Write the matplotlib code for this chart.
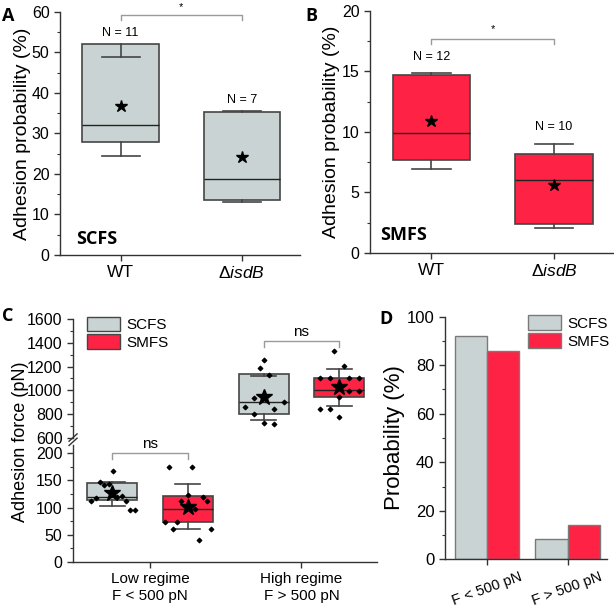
import matplotlib
matplotlib.use('Agg')
import matplotlib.pyplot as plt
from matplotlib.lines import Line2D
from matplotlib.patches import Patch

plt.rcParams['font.family'] = ['Liberation Sans', 'DejaVu Sans']
plt.rcParams['mathtext.fontset'] = 'custom'
plt.rcParams['mathtext.rm'] = 'Liberation Sans'
plt.rcParams['mathtext.it'] = 'Liberation Sans:italic'

GRAY = '#c9d3d3'
RED = '#fe2244'
EDGE = '#454545'
BRACKET = '#9a9a9a'
BOLD = ['Open Sans', 'DejaVu Sans']

# panel A / B : adhesion probability (%)
strains = ['WT', r'$\mathit{\Delta isdB}$']
scfs_prob = dict(q1=[28.0, 13.7], q3=[52.0, 35.3], med=[32.0, 18.7],
                 lo=[24.5, 13.2], hi=[49.0, 35.5], mean=[36.8, 24.3])
smfs_prob = dict(q1=[7.7, 2.4], q3=[14.7, 8.2], med=[9.9, 6.0],
                 lo=[6.9, 2.1], hi=[14.9, 9.0], mean=[10.9, 5.6])
scfs_n = [11, 7]
smfs_n = [12, 10]

# panel C : adhesion force (pN), [low regime, high regime]
regimes = ['Low regime\nF < 500 pN', 'High regime\nF > 500 pN']
scfs_force = dict(q1=[113.8, 801], q3=[144.4, 1136], med=[119, 904],
                  lo=[102.7, 753], hi=[147, 1125], mean=[126, 944])
smfs_force = dict(q1=[74, 946], q3=[121, 1108], med=[98, 1005],
                  lo=[60.5, 873], hi=[142.5, 1181], mean=[101, 1027])
scfs_low_pts = [112, 117, 147, 142, 144, 168, 120, 122, 112, 95, 95]
scfs_low_jit = [-0.14, -0.11, -0.084, -0.053, -0.025, 0.005, 0.031, 0.062, 0.093, 0.12, 0.148]
smfs_low_pts = [73, 174, 61, 73, 112, 123, 174, 98, 41, 120, 112, 61]
smfs_low_jit = [-0.152, -0.124, -0.097, -0.075, -0.046, 0.0, 0.025, 0.048, 0.075, 0.099, 0.124, 0.15]
scfs_high_pts = [1256, 1192, 1133, 940, 904, 857, 843, 802, 728, 714]
scfs_high_jit = [0.002, -0.026, 0.035, -0.062, 0.134, -0.126, 0.068, -0.062, 0.002, 0.068]
smfs_high_pts = [1332, 1203, 1105, 1105, 1105, 1105, 944, 999, 999, 846, 846, 773]
smfs_high_jit = [-0.031, 0.033, -0.126, -0.064, 0.064, 0.128, 0.0, 0.064, 0.128, -0.128, -0.064, 0.0]

# panel D : probability (%)
force_bins = ['F < 500 pN', 'F > 500 pN']
scfs_bin = [92.2, 8.2]
smfs_bin = [86.0, 14.0]


def stats(d, i):
    return dict(q1=d['q1'][i], q3=d['q3'][i], med=d['med'][i],
                whislo=d['lo'][i], whishi=d['hi'][i], mean=d['mean'][i])


def style(ax):
    for s in ['top', 'right']:
        ax.spines[s].set_visible(False)
    for s in ['left', 'bottom']:
        ax.spines[s].set_color('#333333')
        ax.spines[s].set_linewidth(1.0)
    ax.tick_params(direction='out', length=4, width=1, color='#333333')
    ax.tick_params(which='minor', direction='out', length=2.5, width=0.8, color='#333333')


def boxes(ax, st, pos, color, width, star=9):
    ax.bxp(st, positions=pos, widths=width, capwidths=width * 0.5,
           patch_artist=True, showmeans=True, showfliers=False,
           boxprops=dict(facecolor=color, edgecolor=EDGE, linewidth=1.2),
           medianprops=dict(color='#222222', linewidth=1.0),
           whiskerprops=dict(color=EDGE, linewidth=1.2),
           capprops=dict(color=EDGE, linewidth=1.2),
           meanprops=dict(marker='*', markerfacecolor='black',
                          markeredgecolor='black', markersize=star),
           manage_ticks=False)


def bracket(ax, x1, x2, y, drop, label, fs, dy):
    ax.plot([x1, x1, x2, x2], [y - drop, y, y, y - drop], color=BRACKET,
            lw=1.0, clip_on=False)
    ax.text((x1 + x2) / 2, y + dy, label, ha='center', va='bottom',
            fontsize=fs, clip_on=False)


def letter(x, y, s):
    fig.text(x, y, s, fontsize=13, fontweight='bold', family=BOLD, va='top')


fig = plt.figure(figsize=(6.14, 6.09), dpi=100)

# ---- A and B
panels = [
    ([0.0977, 0.5813, 0.3909, 0.399], scfs_prob, scfs_n, GRAY, 60, 10, 'SCFS', 'A',
     (59.3, 1.3, 0.6, [54.8, 38.3], 4, 0.63, -0.12, 0.004)),
    ([0.6026, 0.5846, 0.3958, 0.3974], smfs_prob, smfs_n, RED, 20, 5, 'SMFS', 'B',
     (17.7, 0.4, 0.4, [16.2, 10.4], 1.5, 0.58, -0.122, 0.497)),
]
for rect, d, n, col, ylim, step, tag, let, extra in panels:
    y, drop, dy, ny, tagy, tagx, labx, letx = extra
    ax = fig.add_axes(rect)
    style(ax)
    boxes(ax, [stats(d, 0), stats(d, 1)], [1, 2], col, 0.63)
    ax.set_xlim(0.5, 2.48)
    ax.set_ylim(0, ylim)
    ax.set_yticks(range(0, ylim + 1, step))
    ax.set_yticks([v + step / 2 for v in range(0, ylim, step)], minor=True)
    ax.set_xticks([1, 2])
    ax.set_xticklabels(strains, fontsize=12.5)
    ax.tick_params(axis='y', labelsize=11.5)
    ax.set_ylabel('Adhesion probability (%)', fontsize=14)
    ax.yaxis.set_label_coords(labx, 0.5)
    bracket(ax, 1, 2, y, drop, '*', 8, dy)
    for i in range(2):
        ax.text(i + 1, ny[i], 'N = %d' % n[i], ha='center', va='center', fontsize=9)
    ax.text(tagx, tagy, tag, fontsize=13, fontweight='bold', family=BOLD, va='center')
    letter(letx, 0.9885, let)

# ---- C (broken y axis)
up = fig.add_axes([0.1189, 0.2808, 0.4951, 0.1954])
lo = fig.add_axes([0.1189, 0.0772, 0.4951, 0.1921])
for ax in (up, lo):
    style(ax)
    ax.set_xlim(0.49, 2.5)
up.spines['bottom'].set_visible(False)
up.set_xticks([])
off = 0.25
for ax, idx, pts_s, jit_s, pts_m, jit_m in [
        (lo, 0, scfs_low_pts, scfs_low_jit, smfs_low_pts, smfs_low_jit),
        (up, 1, scfs_high_pts, scfs_high_jit, smfs_high_pts, smfs_high_jit)]:
    g = idx + 1
    boxes(ax, [stats(scfs_force, idx)], [g - off], GRAY, 0.33, star=12)
    boxes(ax, [stats(smfs_force, idx)], [g + off], RED, 0.33, star=12)
    ax.scatter([g - off + j for j in jit_s], pts_s, marker='D', s=5, color='black', zorder=3)
    ax.scatter([g + off + j for j in jit_m], pts_m, marker='D', s=5, color='black', zorder=3)
up.set_ylim(600, 1600)
up.set_yticks(range(600, 1601, 200))
up.set_yticks(range(700, 1600, 200), minor=True)
lo.set_ylim(0, 215)
lo.set_yticks(range(0, 201, 50))
lo.set_yticks(range(25, 201, 50), minor=True)
for ax in (up, lo):
    ax.tick_params(axis='y', labelsize=11.5)
lo.set_xticks([1, 2])
lo.set_xticklabels(regimes, fontsize=11)
bracket(lo, 1 - off, 1 + off, 199.5, 10, 'ns', 11, 4)
bracket(up, 2 - off, 2 + off, 1415, 47, 'ns', 11, 20)
fig.text(0.034, 0.275, 'Adhesion force (pN)', rotation=90, fontsize=13,
         ha='center', va='center')
# break marks on the y axis
for yy in (0.2745, 0.2815):
    fig.add_artist(Line2D([0.1125, 0.1255], [yy - 0.006, yy + 0.006],
                          transform=fig.transFigure, color='#333333', lw=1))
up.legend(handles=[Patch(facecolor=GRAY, edgecolor=EDGE, label='SCFS'),
                   Patch(facecolor=RED, edgecolor=EDGE, label='SMFS')],
          loc='upper left', bbox_to_anchor=(0.045, 1.02), frameon=False,
          fontsize=11, handlelength=2.2, handleheight=1.1, handletextpad=0.4,
          labelspacing=0.15, borderaxespad=0, borderpad=0)
letter(0.004, 0.496, 'C')

# ---- D
ax = fig.add_axes([0.7248, 0.0816, 0.2638, 0.3984])
style(ax)
w = 0.4
ax.bar([i + 1 - w / 2 for i in range(2)], scfs_bin, width=w, color=GRAY,
       edgecolor='#7a7a7a', linewidth=1.0, label='SCFS')
ax.bar([i + 1 + w / 2 for i in range(2)], smfs_bin, width=w, color=RED,
       edgecolor='#7a7a7a', linewidth=1.0, label='SMFS')
ax.set_xlim(0.48, 2.49)
ax.set_ylim(0, 100)
ax.set_yticks(range(0, 101, 20))
ax.set_yticks(range(10, 100, 20), minor=True)
ax.set_xticks([1, 2])
ax.set_xticklabels(force_bins, rotation=20, ha='center', fontsize=10.5)
ax.tick_params(axis='y', labelsize=12)
ax.set_ylabel('Probability (%)', fontsize=16)
ax.yaxis.set_label_coords(-0.25, 0.5)
ax.legend(loc='upper left', bbox_to_anchor=(0.51, 1.005), frameon=False,
          fontsize=11, handlelength=2.2, handleheight=1.1, handletextpad=0.4,
          labelspacing=0.15, borderaxespad=0, borderpad=0)
letter(0.618, 0.491, 'D')

fig.savefig('out.png', dpi=100)
